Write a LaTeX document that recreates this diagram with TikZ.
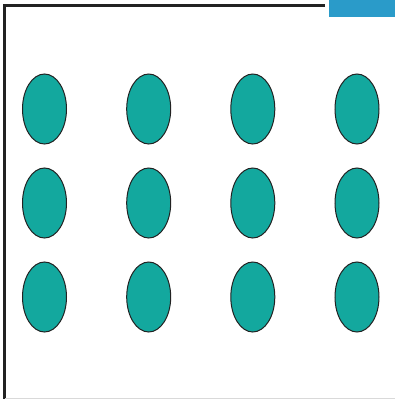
\documentclass[tikz,border=0pt]{standalone}
\usetikzlibrary{shapes.geometric}
\definecolor{tealfill}{HTML}{13A89E}
\definecolor{topblue}{HTML}{2A9BC9}
\definecolor{frameline}{HTML}{222222}
\begin{document}
\begin{tikzpicture}[x=1bp,y=-1bp,
  cell/.style={ellipse, draw=frameline, line width=1bp, fill=tealfill, minimum width=44bp, minimum height=70bp, inner sep=0pt}]
\useasboundingbox (0,0) rectangle (395,399);
\fill[white] (0,0) rectangle (395,399);
\fill[topblue] (329,0) rectangle (395,16.5);
\draw[frameline, line width=2.2bp] (325,5.5) -- (4.5,5.5) -- (4.5,399);
\draw[black!15, line width=1bp] (5.5,398.5) -- (395,398.5);
\foreach \r/\y in {1/109,2/203,3/297}{
  \foreach \c/\x in {1/44.5,2/148.7,3/252.8,4/357}{
    \node[cell] (e\r\c) at (\x,\y) {};
  }
}
\end{tikzpicture}
\end{document}
